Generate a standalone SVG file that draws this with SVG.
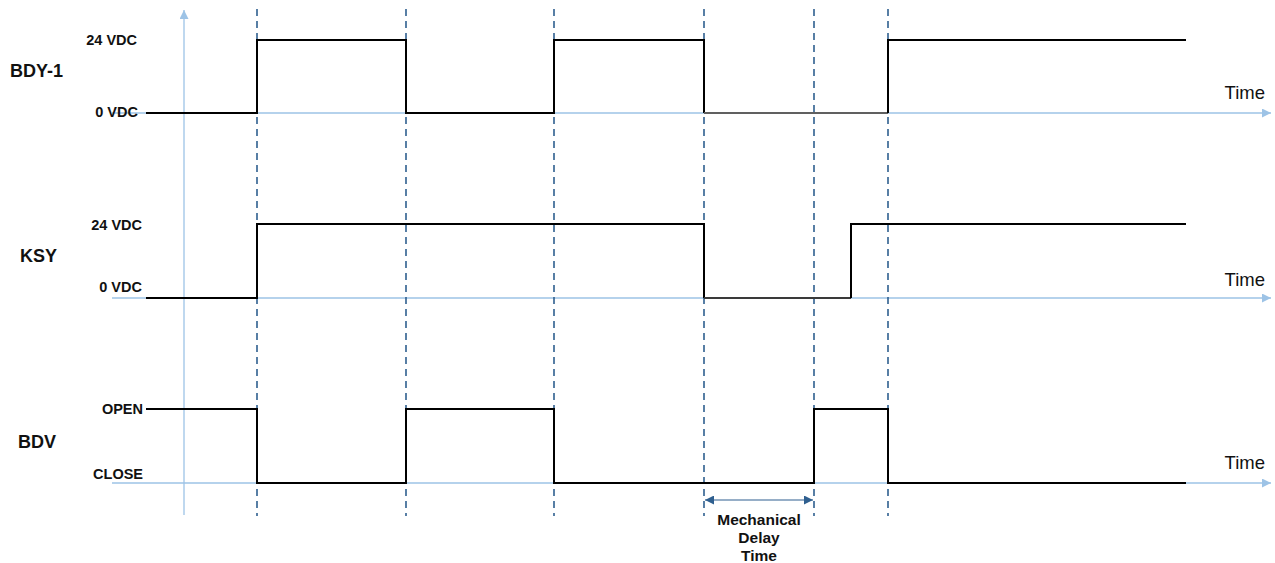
<svg xmlns="http://www.w3.org/2000/svg" width="1275" height="563" viewBox="0 0 1275 563">
  <style>
    .axis { stroke: #9dc3e6; stroke-width: 1.3; fill: none; }
    .guide { stroke: #2f5f8f; stroke-width: 1.6; stroke-dasharray: 7 5; fill: none; }
    .sig { stroke: #000; stroke-width: 2; fill: none; stroke-linejoin: miter; }
    .name { font-family: "Liberation Sans", Arial, sans-serif; font-weight: bold; font-size: 18px; fill: #111; }
    .lvl { font-family: "Liberation Sans", Arial, sans-serif; font-weight: bold; font-size: 14.5px; fill: #111; text-anchor: end; }
    .time { font-family: "Liberation Sans", Arial, sans-serif; font-size: 18.5px; fill: #111; text-anchor: end; }
    .dim { font-family: "Liberation Sans", Arial, sans-serif; font-weight: bold; font-size: 15.5px; fill: #111; text-anchor: middle; }
  </style>
  <defs>
    <marker id="axisHead" viewBox="0 0 10 10" refX="10" refY="5" markerWidth="9" markerHeight="9" markerUnits="userSpaceOnUse" orient="auto">
      <path d="M0,0 L10,5 L0,10 z" fill="#9dc3e6"/>
    </marker>
    <marker id="dimHead" viewBox="0 0 10 10" refX="10" refY="5" markerWidth="9" markerHeight="9" markerUnits="userSpaceOnUse" orient="auto-start-reverse">
      <path d="M0,0 L10,5 L0,10 z" fill="#2f5f8f"/>
    </marker>
  </defs>

  <!-- axes -->
  <g id="axes">
    <line class="axis" x1="184" y1="515" x2="184" y2="10" marker-end="url(#axisHead)"/>
    <line class="axis" x1="112" y1="113" x2="1271" y2="113" marker-end="url(#axisHead)"/>
    <line class="axis" x1="112" y1="298" x2="1271" y2="298" marker-end="url(#axisHead)"/>
    <line class="axis" x1="112" y1="483" x2="1271" y2="483" marker-end="url(#axisHead)"/>
    <text class="time" x="1265" y="99">Time</text>
    <text class="time" x="1265" y="286">Time</text>
    <text class="time" x="1265" y="469">Time</text>
  </g>

  <!-- transition guides -->
  <g id="guides">
    <line class="guide" x1="257" y1="9" x2="257" y2="516"/>
    <line class="guide" x1="406" y1="9" x2="406" y2="516"/>
    <line class="guide" x1="554" y1="9" x2="554" y2="516"/>
    <line class="guide" x1="704" y1="9" x2="704" y2="516"/>
    <line class="guide" x1="814" y1="9" x2="814" y2="516"/>
    <line class="guide" x1="888" y1="9" x2="888" y2="516"/>
  </g>

  <!-- BDY-1 signal -->
  <g id="bdy1">
    <text class="name" x="10" y="77">BDY-1</text>
    <text class="lvl" x="137" y="45">24 VDC</text>
    <text class="lvl" x="138" y="117">0 VDC</text>
    <path class="sig" d="M146,113 H257 V40 H406 V113 H554 V40 H704 V113"/>
    <line x1="704" y1="113" x2="888" y2="113" stroke="#606060" stroke-width="2"/>
    <path class="sig" d="M888,113 V40 H1186"/>
  </g>

  <!-- KSY signal -->
  <g id="ksy">
    <text class="name" x="20" y="262">KSY</text>
    <text class="lvl" x="142" y="230">24 VDC</text>
    <text class="lvl" x="142" y="292">0 VDC</text>
    <path class="sig" d="M146,298 H257 V224 H704 V298"/>
    <line x1="704" y1="298" x2="851" y2="298" stroke="#3a3a3a" stroke-width="2"/>
    <path class="sig" d="M851,298 V224 H1186"/>
  </g>

  <!-- BDV signal -->
  <g id="bdv">
    <text class="name" x="18" y="448">BDV</text>
    <text class="lvl" x="143" y="414">OPEN</text>
    <text class="lvl" x="143" y="479">CLOSE</text>
    <path class="sig" d="M146,409 H257 V483 H406 V409 H554 V483 H814 V409 H888 V483 H1186"/>
  </g>

  <!-- mechanical delay dimension -->
  <g id="delay">
    <line x1="705" y1="500" x2="813" y2="500" stroke="#2f5f8f" stroke-width="1.2" marker-start="url(#dimHead)" marker-end="url(#dimHead)"/>
    <text class="dim" x="759" y="525">Mechanical</text>
    <text class="dim" x="759" y="543">Delay</text>
    <text class="dim" x="759" y="561">Time</text>
  </g>
</svg>
